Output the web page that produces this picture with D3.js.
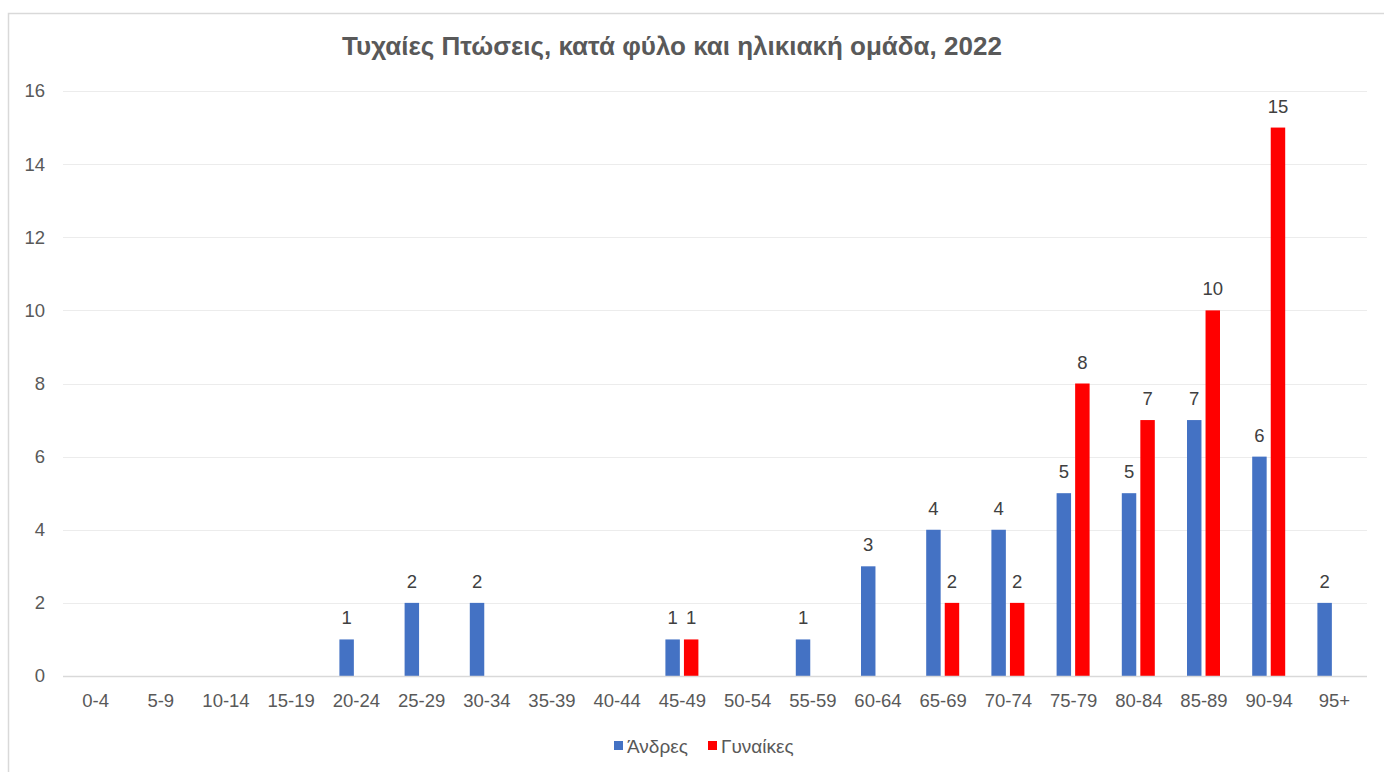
<!DOCTYPE html>
<html>
<head>
<meta charset="utf-8">
<style>
body { margin: 0; background: #fff; }
text { font-family: "Liberation Sans", Arial, sans-serif; }
.grid line { stroke: #ececec; stroke-width: 1px; }
.tick text { fill: #595959; font-size: 18.5px; font-family: "Liberation Sans", Arial, sans-serif; }
.title { fill: #595959; font-size: 26px; font-weight: bold; text-anchor: middle; }
.label { fill: #404040; font-size: 18.5px; text-anchor: middle; }
.legend text { fill: #595959; font-size: 19px; }
</style>
</head>
<body>
<svg width="1384" height="772"></svg>
<script src="https://d3js.org/d3.v7.min.js"></script>
<script>
var ageGroups = ["0-4", "5-9", "10-14", "15-19", "20-24", "25-29", "30-34", "35-39", "40-44", "45-49",
  "50-54", "55-59", "60-64", "65-69", "70-74", "75-79", "80-84", "85-89", "90-94", "95+"];
var men = [null, null, null, null, 1, 2, 2, null, null, 1, null, 1, 3, 4, 4, 5, 5, 7, 6, 2];
var women = [null, null, null, null, null, null, null, null, null, 1, null, null, null, 2, 2, 8, 7, 10, 15, null];
var seriesNames = ["Άνδρες", "Γυναίκες"];
var seriesColors = ["#4472c4", "#ff0000"];
var yTicks = [0, 2, 4, 6, 8, 10, 12, 14, 16];

var svg = d3.select("svg"),
    width = 1384,
    height = 772;

var margin = { left: 63, right: 17, top: 91, bottom: 96 };

// chart border (only top and left show in the crop)
svg.append("path")
    .attr("d", "M8.5," + height + "V13.5H" + width)
    .attr("fill", "none")
    .attr("stroke", "#d9d9d9")
    .attr("stroke-width", 1.5);

svg.append("text")
    .attr("class", "title")
    .attr("x", 672)
    .attr("y", 55)
    .text("Τυχαίες Πτώσεις, κατά φύλο και ηλικιακή ομάδα, 2022");

var x = d3.scaleBand()
    .domain(ageGroups)
    .range([margin.left, width - margin.right])
    .padding(0);

var y = d3.scaleLinear()
    .domain([0, 16])
    .range([height - margin.bottom, margin.top]);

var x1 = d3.scaleBand()
    .domain([0, 1])
    .range([-17, 16])
    .paddingInner(0.22);

// gridlines
svg.append("g")
    .attr("class", "grid")
    .selectAll("line")
    .data(yTicks.slice(1))
    .enter().append("line")
      .attr("x1", margin.left)
      .attr("x2", width - margin.right)
      .attr("y1", function(d) { return Math.round(y(d)) + 0.5; })
      .attr("y2", function(d) { return Math.round(y(d)) + 0.5; });

// y axis labels
var yAxis = svg.append("g")
    .attr("transform", "translate(" + (margin.left - 18) + ",0)")
    .call(d3.axisLeft(y).tickValues(yTicks).tickSize(0).tickPadding(0));
yAxis.select(".domain").remove();

var series = [men, women];

series.forEach(function(vals, s) {
  var data = ageGroups.map(function(g, i) { return { g: g, v: vals[i] }; })
      .filter(function(d) { return d.v != null; });

  svg.append("g")
    .selectAll("rect")
    .data(data)
    .enter().append("rect")
      .attr("x", function(d) { return x(d.g) + x.bandwidth() / 2 + x1(s); })
      .attr("width", x1.bandwidth())
      .attr("y", function(d) { return y(d.v); })
      .attr("height", function(d) { return y(0) - y(d.v); })
      .attr("fill", seriesColors[s]);

  svg.append("g")
    .selectAll("text")
    .data(data)
    .enter().append("text")
      .attr("class", "label")
      .attr("x", function(d) { return x(d.g) + x.bandwidth() / 2 + x1(s) + x1.bandwidth() / 2; })
      .attr("y", function(d) { return y(d.v) - 15; })
      .text(function(d) { return d.v; });
});

// baseline
svg.append("line")
    .attr("x1", margin.left)
    .attr("x2", width - margin.right)
    .attr("y1", Math.round(y(0)) + 0.5)
    .attr("y2", Math.round(y(0)) + 0.5)
    .attr("stroke", "#d9d9d9")
    .attr("stroke-width", 1.5);

// x axis
var xAxis = svg.append("g")
    .attr("transform", "translate(0," + y(0) + ")")
    .call(d3.axisBottom(x).tickSize(0).tickPadding(18));
xAxis.select(".domain").remove();

// legend
var legend = svg.append("g")
    .attr("class", "legend")
    .selectAll("g")
    .data(seriesNames)
    .enter().append("g")
      .attr("transform", function(d, i) { return "translate(" + [614, 708][i] + ",746)"; });

legend.append("rect")
    .attr("x", 0)
    .attr("y", -5)
    .attr("width", 9)
    .attr("height", 9)
    .attr("fill", function(d, i) { return seriesColors[i]; });

legend.append("text")
    .attr("x", 13)
    .attr("dy", "0.35em")
    .text(function(d) { return d; });
</script>
</body>
</html>
